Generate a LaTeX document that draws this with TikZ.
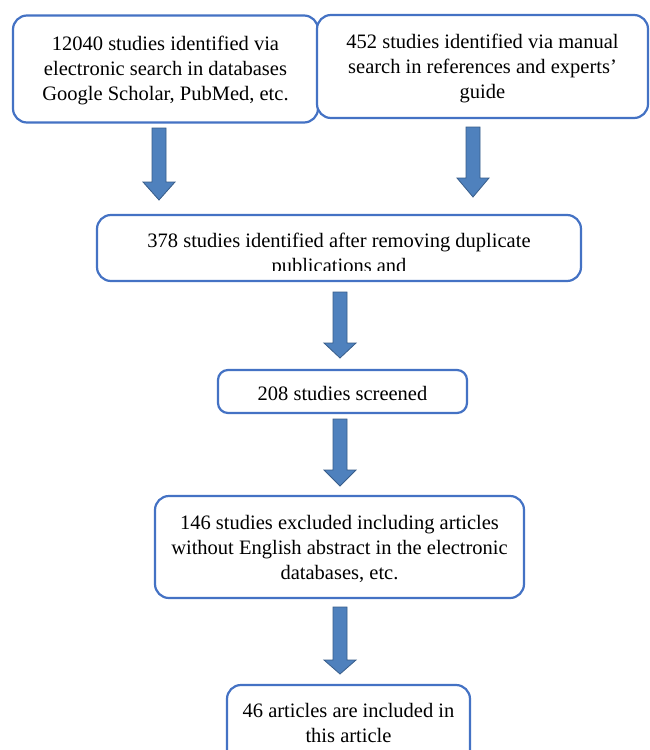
\documentclass[tikz,border=0pt]{standalone}
\usepackage{fontspec}
\setmainfont{Liberation Serif}
\usetikzlibrary{calc}
\definecolor{boxblue}{HTML}{4472C4}
\definecolor{arrfill}{HTML}{4F81BD}
\definecolor{arrdraw}{HTML}{385D8A}
\newcommand\blockarr[5]{%
  \coordinate (#1-top) at (#2,#3);
  \coordinate (#1-tip) at (#2,#5);
  \draw[barrow] ({#2-7},#3) -- ({#2+7},#3) -- ({#2+7},#4) -- ({#2+16},#4)
    -- (#1-tip) -- ({#2-16},#4) -- ({#2-7},#4) -- cycle;}
\begin{document}
\begin{tikzpicture}[x=1pt,y=-1pt,
  box/.style={draw=boxblue, line width=2.2pt, rounded corners=14pt, fill=white, inner sep=0pt},
  btext/.style={align=center, inner sep=0pt, font=\fontsize{20.5}{25}\selectfont},
  barrow/.style={fill=arrfill, draw=arrdraw, line width=0.8pt}]
\useasboundingbox (0,0) rectangle (649,750);
\clip (0,0) rectangle (649,750);
\fill[white] (0,0) rectangle (649,750);

% boxes
\node[box, minimum width=305pt, minimum height=107pt] (b1) at (165.5,69) {};
\node[btext] (t1) at (165.5,70) {12040 studies identified via\\electronic search in databases\\Google Scholar, PubMed, etc.};

\node[box, minimum width=331pt, minimum height=103pt] (b2) at (482.5,66.5) {};
\node[btext] (t2) at (482.5,68) {452 studies identified via manual\\search in references and experts'\\guide};

\node[box, minimum width=484pt, minimum height=66pt] (b3) at (339,248) {};
\begin{scope}
  \clip (100,218) rectangle (578,270.5);
  \node[btext] (t3) at (339,255) {378 studies identified after removing duplicate\\publications and};
\end{scope}

\node[box, minimum width=249pt, minimum height=43pt, rounded corners=10pt] (b4) at (342.5,391.5) {};
\node[btext] (t4) at (342.5,393) {208 studies screened};

\node[box, minimum width=369pt, minimum height=102pt] (b5) at (339.5,547) {};
\node[btext] (t5) at (339.5,549) {146 studies excluded including articles\\without English abstract in the electronic\\databases, etc.};

\node[box, minimum width=243pt, minimum height=78pt] (b6) at (348.5,724) {};
\node[btext] (t6) at (348.5,723) {46 articles are included in\\this article};

% block arrows
\blockarr{a1}{159}{128}{182}{200}
\blockarr{a2}{473}{127}{178}{197}
\blockarr{a3}{340}{292}{343}{358}
\blockarr{a4}{340}{419}{470}{486}
\blockarr{a5}{340}{607}{660}{674}
\end{tikzpicture}
\end{document}
